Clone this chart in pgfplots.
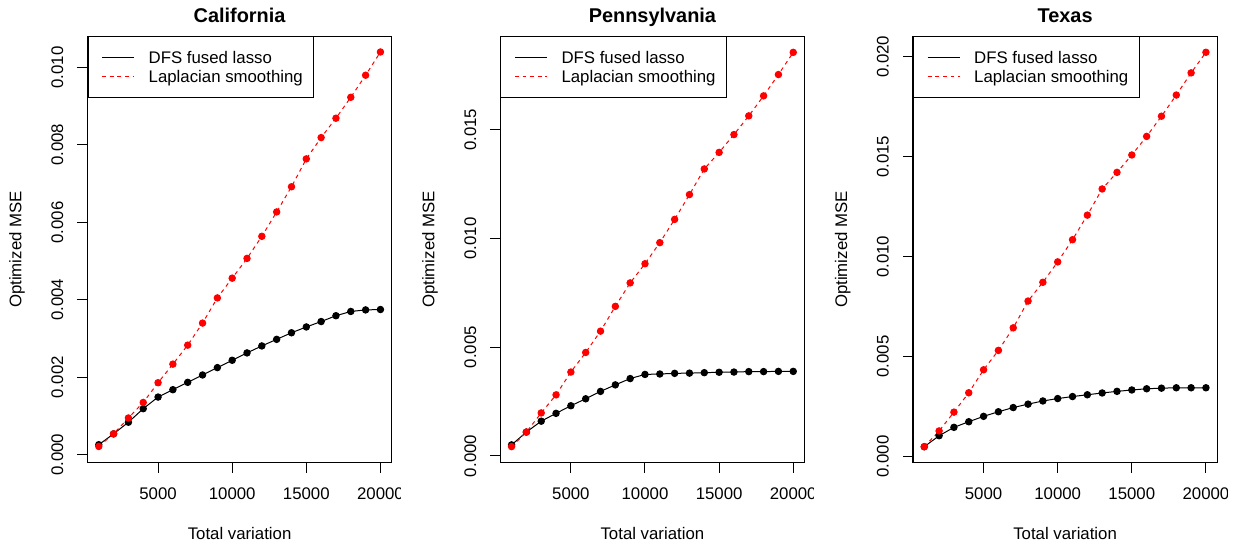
\documentclass[border=0pt]{standalone}
\usepackage{fontspec}
\setmainfont{Liberation Sans}
\usepackage{pgfplots}
\usepackage{pgfplotstable}
\pgfplotsset{compat=1.18}

% tv = total variation, dfs = DFS fused lasso, lap = Laplacian smoothing
\pgfplotstableread{
tv    dfs      lap
1000  0.00026  0.000215
2000  0.00054  0.00054
3000  0.00084  0.00095
4000  0.00119  0.00135
5000  0.00149  0.00186
6000  0.00168  0.00234
7000  0.00187  0.00283
8000  0.00206  0.00340
9000  0.00225  0.00405
10000 0.00244  0.00456
11000 0.00263  0.00507
12000 0.00281  0.00564
13000 0.00298  0.00627
14000 0.00315  0.00692
15000 0.00330  0.00764
16000 0.00344  0.00819
17000 0.00359  0.00869
18000 0.00370  0.00923
19000 0.00374  0.00980
20000 0.00375  0.01040
}\catab

\pgfplotstableread{
tv    dfs      lap
1000  0.00051  0.00043
2000  0.00110  0.00110
3000  0.00160  0.00198
4000  0.00196  0.00281
5000  0.00231  0.00386
6000  0.00263  0.00476
7000  0.00297  0.00574
8000  0.00327  0.00688
9000  0.00356  0.00796
10000 0.00375  0.00884
11000 0.00377  0.00981
12000 0.00380  0.01088
13000 0.00381  0.01202
14000 0.00383  0.01320
15000 0.00385  0.01396
16000 0.00386  0.01478
17000 0.00388  0.01564
18000 0.00388  0.01656
19000 0.00389  0.01754
20000 0.00389  0.01856
}\patab

\pgfplotstableread{
tv    dfs      lap
1000  0.00049  0.00049
2000  0.00104  0.00128
3000  0.00146  0.00222
4000  0.00174  0.00319
5000  0.00201  0.00434
6000  0.00224  0.00531
7000  0.00245  0.00644
8000  0.00262  0.00778
9000  0.00278  0.00872
10000 0.00290  0.00974
11000 0.00300  0.01085
12000 0.00309  0.01208
13000 0.00318  0.01339
14000 0.00326  0.01422
15000 0.00333  0.01509
16000 0.00339  0.01602
17000 0.00342  0.01703
18000 0.00344  0.01809
19000 0.00344  0.01920
20000 0.00344  0.02023
}\txtab

\pgfplotsset{
  rpanel/.style={
    scale only axis, width=304.2pt, height=426pt,
    anchor=south west,
    xmin=240, xmax=20760,
    xtick={5000,10000,15000,20000},
    xticklabels={5000,10000,15000,20000},
    scaled x ticks=false, scaled y ticks=false,
    tick align=outside, major tick length=10pt,
    xtick pos=bottom, ytick pos=left,
    tick style={black, line width=1pt},
    axis line style={line width=1.1pt},
    font=\fontsize{16.8}{20}\selectfont,
    xticklabel style={anchor=base, inner sep=0pt},
    yticklabel style={rotate=90, anchor=base, inner sep=0pt},
    xticklabel shift=27pt, yticklabel shift=14.3pt,
    xlabel={Total variation}, ylabel={Optimized MSE},
    xlabel style={at={(axis description cs:0.5,-0.1808)}, anchor=base},
    ylabel style={at={(axis description cs:-0.217,0.5)}, anchor=base},
    every axis title shift=0pt,
    title style={at={(axis description cs:0.5,1.0324)}, anchor=base,
      font=\fontsize{19.9}{24}\selectfont\bfseries},
    legend style={at={(axis description cs:0,1)}, anchor=north west,
      inner xsep=10.5pt, inner ysep=14.5pt,
      row sep=7.9pt, column sep=14pt,
      nodes={inner sep=0pt, text height=11.9pt, text depth=0pt}},
    legend cell align=left,
    legend image code/.code={\path (-3.5pt,0pt); \draw[##1] (0pt,0pt) -- (32pt,0pt);},
  },
  dfsline/.style={black, line width=1pt, mark=*, mark size=3.2pt, mark options={solid, fill=black}},
  lapline/.style={red, line width=1pt, dash pattern=on 3.8pt off 3.8pt, mark=*, mark size=3.2pt, mark options={solid, fill=red}},
}

\begin{document}
\begin{tikzpicture}
\useasboundingbox (0,0) rectangle (1233pt,544pt);

\begin{scope}
\clip (0,0) rectangle (400pt,544pt);
\begin{axis}[rpanel, at={(87.5pt,81.5pt)}, title={California},
  ymin=-0.0002, ymax=0.0108,
  ytick={0,0.002,0.004,0.006,0.008,0.010},
  yticklabels={0.000,0.002,0.004,0.006,0.008,0.010}]
\addplot[dfsline] table[x=tv, y=dfs] {\catab};
\addlegendentry{DFS fused lasso}
\addplot[lapline] table[x=tv, y=lap] {\catab};
\addlegendentry{Laplacian smoothing}
\end{axis}
\end{scope}

\begin{scope}
\clip (411pt,0) rectangle (813pt,544pt);
\begin{axis}[rpanel, at={(500.3pt,81.5pt)}, title={Pennsylvania},
  ymin=-0.0003, ymax=0.01929,
  ytick={0,0.005,0.010,0.015},
  yticklabels={0.000,0.005,0.010,0.015}]
\addplot[dfsline] table[x=tv, y=dfs] {\patab};
\addlegendentry{DFS fused lasso}
\addplot[lapline] table[x=tv, y=lap] {\patab};
\addlegendentry{Laplacian smoothing}
\end{axis}
\end{scope}

\begin{scope}
\clip (822pt,0) rectangle (1227pt,544pt);
\begin{axis}[rpanel, at={(913pt,81.5pt)}, title={Texas},
  ymin=-0.0003, ymax=0.02102,
  ytick={0,0.005,0.010,0.015,0.020},
  yticklabels={0.000,0.005,0.010,0.015,0.020}]
\addplot[dfsline] table[x=tv, y=dfs] {\txtab};
\addlegendentry{DFS fused lasso}
\addplot[lapline] table[x=tv, y=lap] {\txtab};
\addlegendentry{Laplacian smoothing}
\end{axis}
\end{scope}
\end{tikzpicture}
\end{document}
